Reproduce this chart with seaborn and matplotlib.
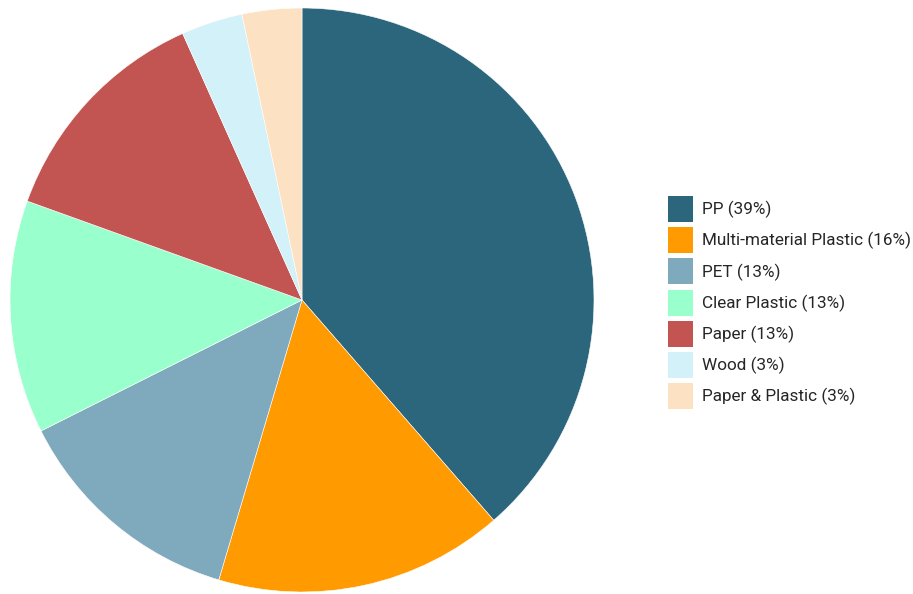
import matplotlib
matplotlib.use("Agg")
import matplotlib.pyplot as plt
import seaborn as sns
from matplotlib.patches import Patch

categories = ["PP", "Multi-material Plastic", "PET", "Clear Plastic", "Paper", "Wood", "Paper & Plastic"]
values = [38.6, 16.0, 13.0, 12.9, 12.8, 3.4, 3.3]
legend_pct = [39, 16, 13, 13, 13, 3, 3]
colors = ["#2B667C", "#FF9A00", "#7FA9BD", "#99FFCC", "#C25451", "#D2F1F8", "#FCE2C2"]

sns.set_style("white")
plt.rcParams["font.family"] = ["Roboto", "DejaVu Sans"]

W, H = 913, 594
fig = plt.figure(figsize=(W / 100, H / 100), dpi=100)
cx, cy, r = 302, 300, 292
ax = fig.add_axes([(cx - r) / W, (H - cy - r) / H, 2 * r / W, 2 * r / H])
ax.pie(values, colors=colors, startangle=90, counterclock=False, radius=1,
       wedgeprops=dict(edgecolor="white", linewidth=0.4))
ax.set_xlim(-1, 1)
ax.set_ylim(-1, 1)
ax.set_aspect("equal")
ax.axis("off")

labels = [f"{c} ({p}%)" for c, p in zip(categories, legend_pct)]
handles = [Patch(facecolor=col, edgecolor="none") for col in colors]
fs = 12.3
fpx = fs * 100 / 72
hh = (26 / fpx - 0.245) / 0.65
fig.legend(handles, labels, loc="upper left",
           bbox_to_anchor=(668 / W, 1 - 196 / H), bbox_transform=fig.transFigure,
           frameon=False, borderpad=0, borderaxespad=0, fontsize=fs,
           handlelength=25 / fpx, handleheight=hh,
           handletextpad=9 / fpx, labelspacing=5.2 / fpx)

fig.savefig("out.png", dpi=100, facecolor="white")
